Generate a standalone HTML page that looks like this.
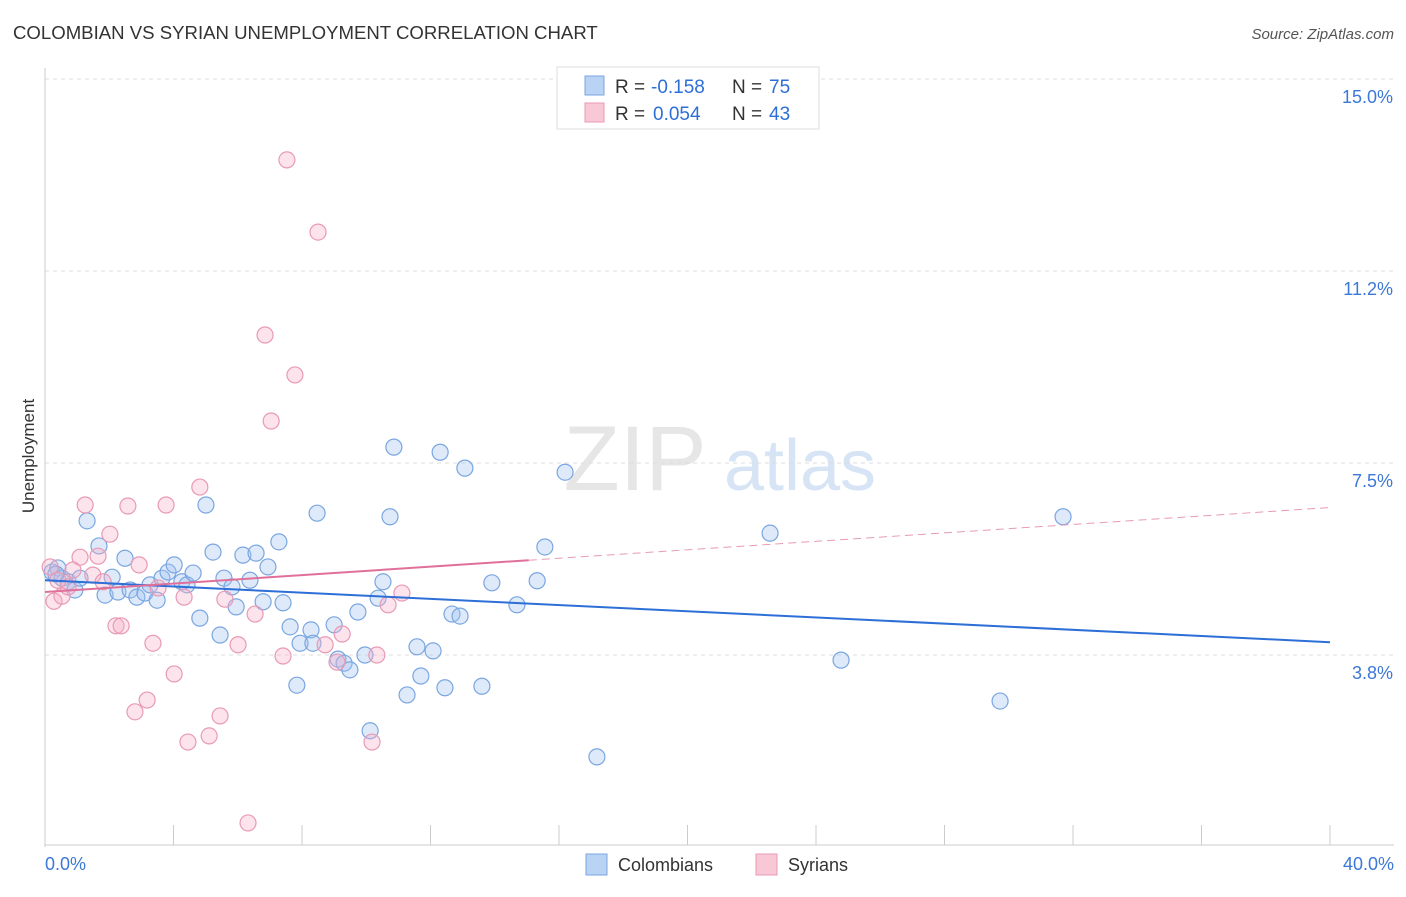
<!DOCTYPE html>
<html><head><meta charset="utf-8">
<style>
body{margin:0;background:#fff;font-family:"Liberation Sans",sans-serif;}
svg text{font-family:"Liberation Sans",sans-serif;}
</style></head>
<body>
<svg id="chart" width="1406" height="892" viewBox="0 0 1406 892" xmlns="http://www.w3.org/2000/svg">
<text x="13" y="39" font-size="18.6" fill="#333">COLOMBIAN VS SYRIAN UNEMPLOYMENT CORRELATION CHART</text>
<text x="1394" y="39" font-size="15" fill="#555" font-style="italic" text-anchor="end">Source: ZipAtlas.com</text>
<g>
<text x="635" y="490" font-size="92" fill="#e6e6e6" font-family="Liberation Serif" text-anchor="middle">ZIP</text>
<text x="800" y="490" font-size="72" fill="#d6e4f5" text-anchor="middle">atlas</text>
</g>
<g id="grid"></g>
<g id="axes"></g>
<g id="marks"></g>
<text x="34" y="456" font-size="17" fill="#333" text-anchor="middle" transform="rotate(-90 34 456)">Unemployment</text>
<g>
<rect x="557" y="67" width="262" height="62" fill="#fff" stroke="#ddd"/>
<rect x="585" y="76" width="19" height="19" fill="#b9d3f5" stroke="#7aa6e0"/>
<rect x="585" y="103" width="19" height="19" fill="#f9c8d7" stroke="#e89ab4"/>
<text x="615" y="93" font-size="19" fill="#333">R =</text>
<text x="651" y="93" font-size="19" fill="#2d6fd6">-0.158</text>
<text x="732" y="93" font-size="19" fill="#333">N =</text>
<text x="769" y="93" font-size="19" fill="#2d6fd6">75</text>
<text x="615" y="120" font-size="19" fill="#333">R =</text>
<text x="653" y="120" font-size="19" fill="#2d6fd6">0.054</text>
<text x="732" y="120" font-size="19" fill="#333">N =</text>
<text x="769" y="120" font-size="19" fill="#2d6fd6">43</text>
</g>
<g>
<rect x="586" y="854" width="21" height="21" fill="#b9d3f5" stroke="#7aa6e0"/>
<text x="618" y="871" font-size="18" fill="#333">Colombians</text>
<rect x="756" y="854" width="21" height="21" fill="#f9c8d7" stroke="#e89ab4"/>
<text x="788" y="871" font-size="18" fill="#333">Syrians</text>
</g>
</svg>
<script>
const yTicks=[3.75,7.5,11.25,15];
const yTickLabels=["3.8%","7.5%","11.2%","15.0%"];
const xTickLabels=["0.0%","40.0%"];
const blueX=[0.22,0.40,0.53,0.72,0.93,1.09,1.31,1.68,1.87,2.09,2.27,2.49,2.65,2.86,3.11,3.27,3.49,3.64,3.83,4.02,4.26,4.42,4.61,4.82,5.01,5.23,5.45,5.57,5.82,5.95,6.16,6.38,6.57,6.79,6.94,7.28,7.41,7.63,7.84,7.94,8.28,8.34,8.47,9.00,9.12,9.31,9.49,9.74,9.96,10.12,10.37,10.52,10.74,10.86,11.27,11.58,11.70,12.08,12.30,12.45,12.67,12.92,13.07,13.60,13.91,14.69,15.32,15.56,16.19,17.18,22.57,24.78,29.73,31.69,0.34];
const blueY=[5.37,5.45,5.25,5.18,5.02,5.25,6.37,5.88,4.92,5.27,4.98,5.64,5.02,4.88,4.96,5.12,4.82,5.25,5.37,5.51,5.18,5.12,5.35,4.47,6.68,5.76,4.14,5.25,5.08,4.69,5.70,5.21,5.74,4.79,5.47,5.96,4.77,4.30,3.16,3.98,4.24,3.98,6.52,4.34,3.67,3.59,3.46,4.59,3.75,2.27,4.86,5.18,6.45,7.81,2.97,3.91,3.34,3.83,7.71,3.11,4.55,4.51,7.40,3.14,5.16,4.73,5.20,5.86,7.32,1.76,6.13,3.65,2.85,6.45,5.33];
const pinkX=[0.16,0.28,0.40,0.53,0.72,0.87,1.09,1.25,1.49,1.65,1.81,2.02,2.21,2.37,2.58,2.80,2.93,3.18,3.36,3.52,3.77,4.02,4.33,4.45,4.82,5.11,5.45,5.60,6.01,6.32,6.54,6.85,7.04,7.41,7.53,7.78,8.50,8.72,9.09,9.25,10.18,10.33,10.68,11.11];
const pinkY=[5.47,4.80,5.21,4.90,5.08,5.41,5.66,6.68,5.31,5.68,5.18,6.11,4.32,4.32,6.66,2.64,5.51,2.87,3.98,5.06,6.68,3.38,4.88,2.05,7.03,2.17,2.56,4.84,3.95,0.47,4.55,10.0,8.32,3.73,13.42,9.22,12.01,3.95,3.61,4.16,2.05,3.75,4.73,4.96];
const blueTrend=[5.21,4.00];
const pinkTrend=[4.98,6.63];
const pinkSolidEnd=15.06;

const NS="http://www.w3.org/2000/svg";
const X0=45,X1=1330,Y0=847,PX=51.2;
const sx=v=>X0+v*(X1-X0)/40;
const sy=v=>Y0-v*PX;
function mk(tag,attrs,parent){const e=document.createElementNS(NS,tag);for(const k in attrs)e.setAttribute(k,attrs[k]);parent.appendChild(e);return e;}
const grid=document.getElementById('grid'),axes=document.getElementById('axes'),marks=document.getElementById('marks');
yTicks.forEach((t,i)=>{
 const l=mk('line',{x1:X0,x2:1394,y1:sy(t),y2:sy(t),stroke:'#ddd','stroke-dasharray':'4,4'},grid);
 
 
 const tx=mk('text',{x:1393,y:sy(t)+24,'font-size':18,fill:'#3b78d8','text-anchor':'end'},axes);
 tx.textContent=yTickLabels[i];
 
 
});
const ax=mk('line',{x1:X0,x2:X0,y1:68,y2:847,stroke:'#ccc'},axes);


const bx=mk('line',{x1:X0,x2:1394,y1:845,y2:845,stroke:'#ccc'},axes);


for(let i=1;i<=10;i++){
 const t=mk('line',{x1:sx(i*4),x2:sx(i*4),y1:825,y2:845,stroke:'#ccc'},axes);
 
 
}
[[0,'start',45],[40,'end',1394]].forEach((d,i)=>{
 const tx=mk('text',{x:d[2],y:870,'font-size':18,fill:'#3b78d8','text-anchor':d[1]},axes);
 tx.textContent=xTickLabels[i];
 
 
});
function pts(xs,ys,fill,stroke,name){
 xs.forEach((x,i)=>{
  const c=mk('circle',{cx:sx(x),cy:sy(ys[i]),r:8,fill:fill,stroke:stroke,'stroke-width':1.2},marks);
  
  
 });
}
pts(blueX,blueY,'rgba(160,195,240,0.35)','#7aa6e0','colombian-point');
pts(pinkX,pinkY,'rgba(245,175,200,0.35)','#e89ab4','syrian-point');
const bl=mk('line',{x1:sx(0),y1:sy(blueTrend[0]),x2:sx(40),y2:sy(blueTrend[1]),stroke:'#2d6fd6','stroke-width':2},marks);


const pm=pinkTrend[0]+(pinkTrend[1]-pinkTrend[0])*pinkSolidEnd/40;
const pl=mk('line',{x1:sx(0),y1:sy(pinkTrend[0]),x2:sx(pinkSolidEnd),y2:sy(pm),stroke:'#e0709a','stroke-width':2},marks);


const pd=mk('line',{x1:sx(pinkSolidEnd),y1:sy(pm),x2:sx(40),y2:sy(pinkTrend[1]),stroke:'#e89ab4','stroke-width':1,'stroke-dasharray':'8,5'},marks);


</script>
</body></html>
